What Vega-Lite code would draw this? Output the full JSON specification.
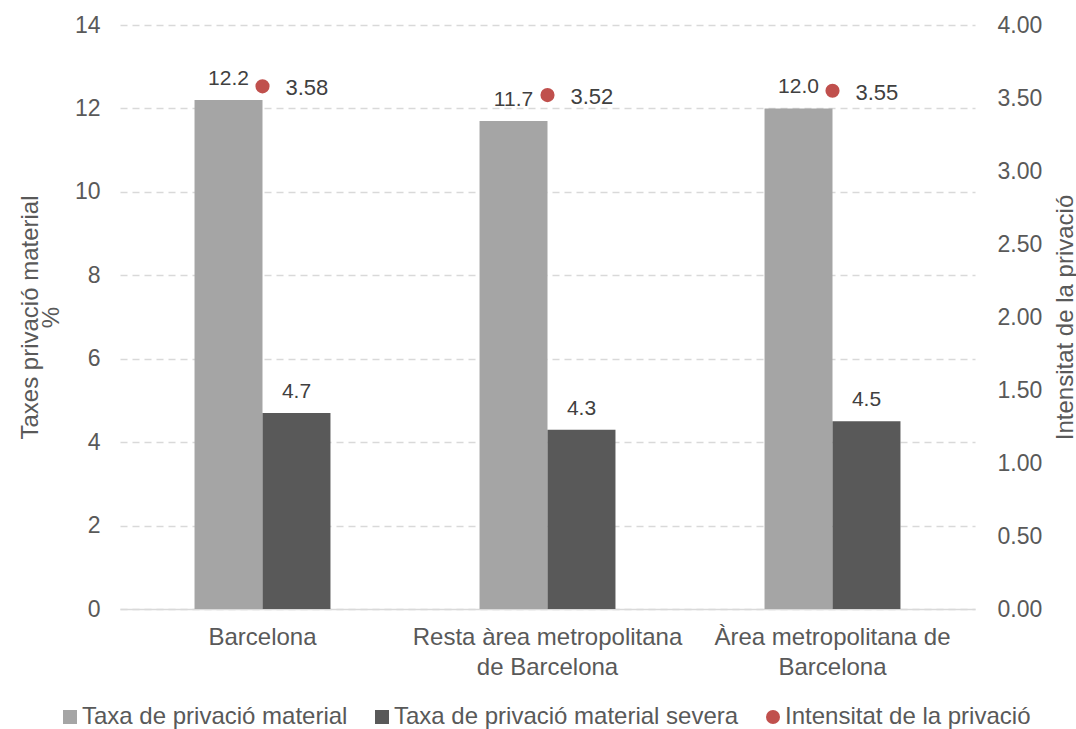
{
  "$schema": "https://vega.github.io/schema/vega-lite/v6.json",
  "width": 855,
  "height": 584,
  "autosize": {"type": "none"},
  "padding": {"left": 120, "top": 25, "right": 101, "bottom": 120},
  "background": "white",
  "config": {
    "font": "Liberation Sans",
    "view": {"stroke": null},
    "axis": {"labelFont": "Liberation Sans", "titleFont": "Liberation Sans", "labelColor": "#595959", "titleColor": "#595959", "labelFontSize": 23, "titleFontSize": 24, "titleFontWeight": "normal", "ticks": false, "labelLimit": 0},
    "legend": {"labelFont": "Liberation Sans", "labelFontSize": 24, "labelColor": "#595959", "labelLimit": 0}
  },
  "datasets": {
    "barres": [
      {"cat": "Barcelona", "serie": "Taxa de privació material", "valor": 12.2},
      {"cat": "Barcelona", "serie": "Taxa de privació material severa", "valor": 4.7},
      {"cat": "Resta àrea metropolitana de Barcelona", "serie": "Taxa de privació material", "valor": 11.7},
      {"cat": "Resta àrea metropolitana de Barcelona", "serie": "Taxa de privació material severa", "valor": 4.3},
      {"cat": "Àrea metropolitana de Barcelona", "serie": "Taxa de privació material", "valor": 12.0},
      {"cat": "Àrea metropolitana de Barcelona", "serie": "Taxa de privació material severa", "valor": 4.5}
    ],
    "punts": [
      {"cat": "Barcelona", "serie": "Intensitat de la privació", "valor": 3.58},
      {"cat": "Resta àrea metropolitana de Barcelona", "serie": "Intensitat de la privació", "valor": 3.52},
      {"cat": "Àrea metropolitana de Barcelona", "serie": "Intensitat de la privació", "valor": 3.55}
    ]
  },
  "encoding": {
    "x": {
      "field": "cat", "type": "nominal", "sort": null,
      "scale": {"paddingInner": 0.523, "paddingOuter": 0.2615},
      "axis": {
        "title": null, "labelAngle": 0, "domain": true, "domainColor": "#D9D9D9", "domainWidth": 1.5, "grid": false, "labelPadding": 16, "labelLineHeight": 30, "labelFontSize": 24,
        "labelExpr": "datum.label == 'Resta àrea metropolitana de Barcelona' ? ['Resta àrea metropolitana','de Barcelona'] : datum.label == 'Àrea metropolitana de Barcelona' ? ['Àrea metropolitana de','Barcelona'] : datum.label"
      }
    }
  },
  "layer": [
    {
      "data": {"name": "barres"},
      "encoding": {
        "xOffset": {"field": "serie", "type": "nominal", "sort": null, "scale": {"paddingInner": 0, "paddingOuter": 0}},
        "y": {
          "field": "valor", "type": "quantitative",
          "scale": {"domain": [0, 14], "nice": false},
          "axis": {"values": [0, 2, 4, 6, 8, 10, 12, 14], "title": ["Taxes privació material", "%"], "titleLineHeight": 21, "titleX": -90, "titleY": 292, "titleAngle": -90, "titleAlign": "center", "titleBaseline": "middle", "labelPadding": 20, "domain": false, "grid": true, "gridColor": "#D9D9D9", "gridDash": [7, 5], "gridWidth": 1.3}
        }
      },
      "layer": [
        {
          "mark": {"type": "bar"},
          "encoding": {
            "color": {
              "field": "serie", "type": "nominal",
              "scale": {"domain": ["Taxa de privació material", "Taxa de privació material severa", "Intensitat de la privació"], "range": ["#A5A5A5", "#595959", "#C0504D"]},
              "legend": {
                "title": null, "orient": "none", "direction": "horizontal", "legendX": -62, "legendY": 680,
                "symbolSize": 196, "columnPadding": 22, "labelOffset": 0, "symbolStrokeWidth": 0,
                "encode": {"symbols": {"update": {"shape": {"signal": "datum.value == 'Intensitat de la privació' ? 'circle' : 'square'"}}}}
              }
            }
          }
        },
        {
          "mark": {"type": "text", "dy": -11, "baseline": "bottom", "fontSize": 21, "color": "#404040", "font": "Liberation Sans"},
          "encoding": {"text": {"field": "valor", "type": "quantitative", "format": ".1f"}}
        }
      ]
    },
    {
      "data": {"name": "punts"},
      "encoding": {
        "y": {
          "field": "valor", "type": "quantitative",
          "scale": {"domain": [0, 4], "nice": false},
          "axis": {"orient": "right", "values": [0, 0.5, 1, 1.5, 2, 2.5, 3, 3.5, 4], "format": ".2f", "title": "Intensitat de la privació", "titleAngle": -90, "titleX": 90, "titleY": 292, "titleAlign": "center", "titleBaseline": "middle", "labelPadding": 22, "domain": false, "grid": false}
        }
      },
      "layer": [
        {
          "mark": {"type": "point", "filled": true, "opacity": 1, "size": 200, "shape": "circle"},
          "encoding": {"color": {"field": "serie", "type": "nominal"}}
        },
        {
          "mark": {"type": "text", "align": "left", "dx": 23, "dy": 2, "baseline": "middle", "fontSize": 22, "color": "#404040", "font": "Liberation Sans"},
          "encoding": {"text": {"field": "valor", "type": "quantitative", "format": ".2f"}}
        }
      ]
    }
  ],
  "resolve": {"scale": {"y": "independent"}}
}
